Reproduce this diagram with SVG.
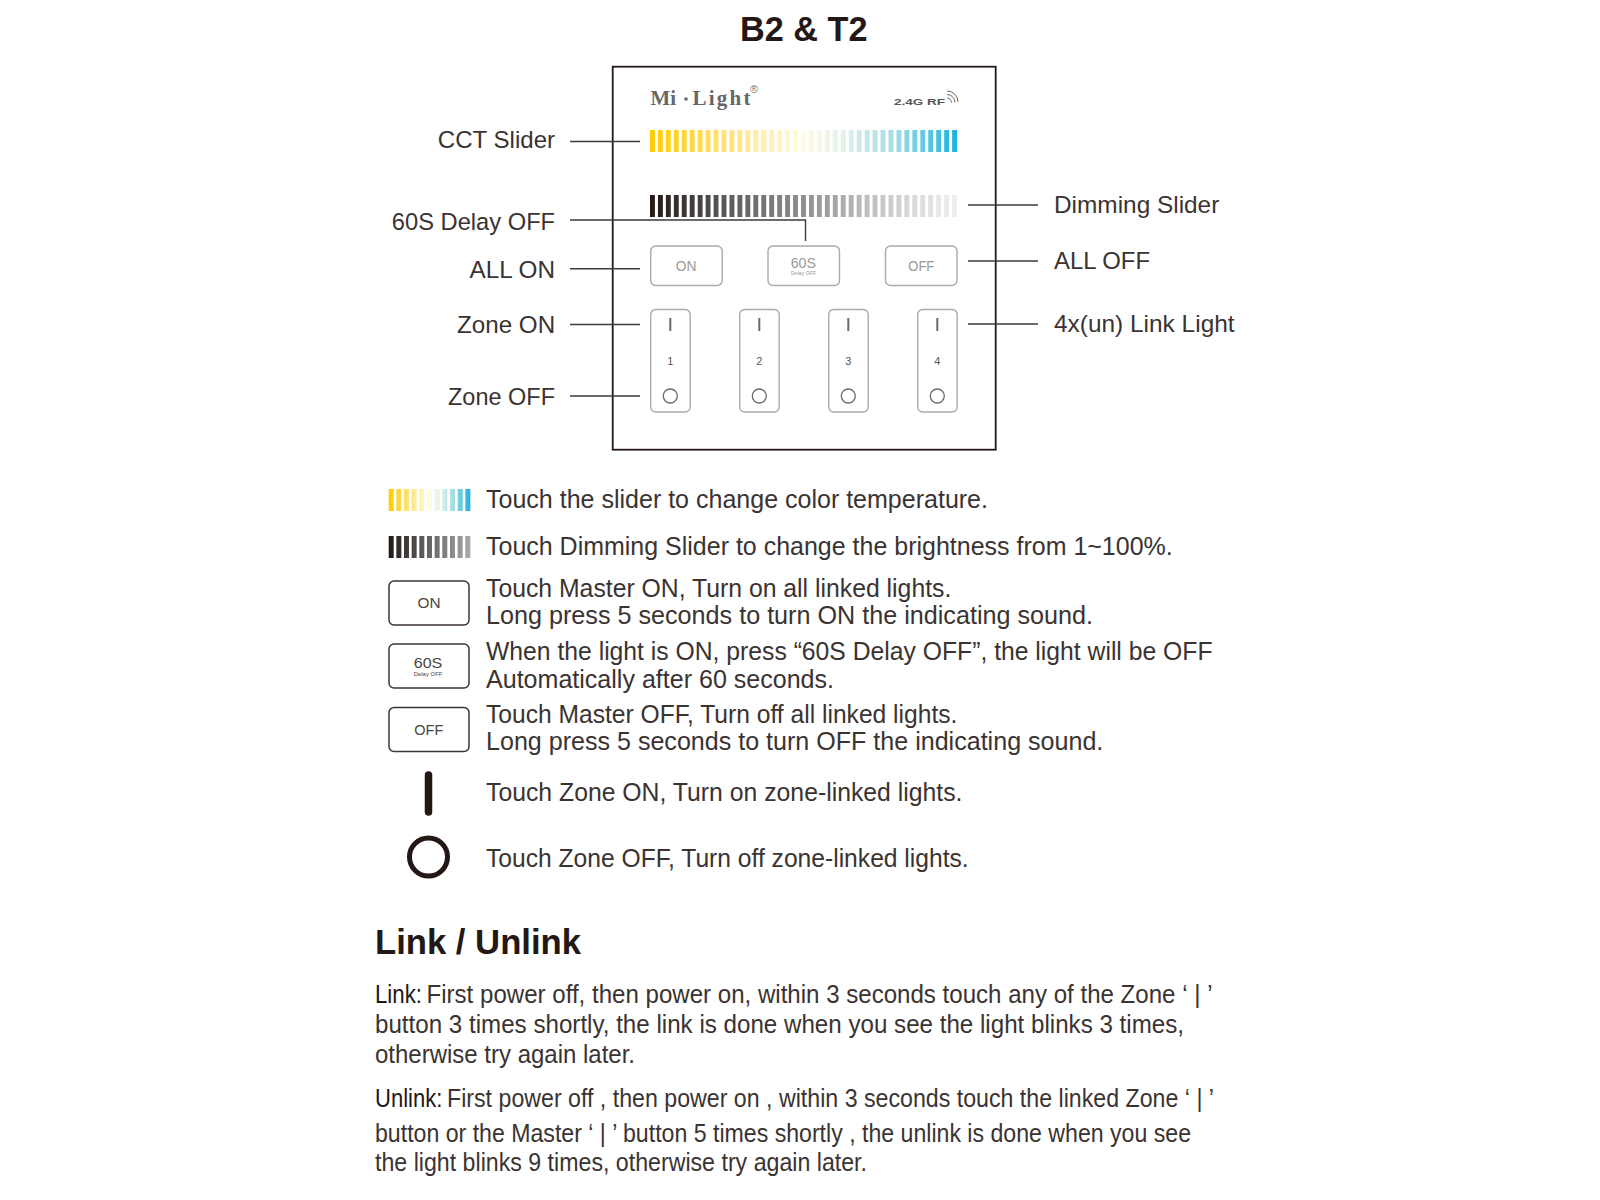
<svg xmlns="http://www.w3.org/2000/svg" width="1600" height="1200" viewBox="0 0 1600 1200">
<style>
text{font-family:"Liberation Sans",Arial,sans-serif;fill:#3a3331}
.t{font-size:25px}
.l{font-size:24.5px}
.h{font-weight:700;fill:#231815;font-size:35px}
.c{fill:none;stroke:#3e3a39;stroke-width:1.4}
.b{fill:#fff;stroke:#aaa;stroke-width:1.4}
.lb{fill:#fff;stroke:#3e3532;stroke-width:1.5}
.bt{fill:#999;font-size:15px}
.lt{fill:#4a4543;font-size:15.500px}
.d{text-anchor:middle;fill:#555;font-size:11px}
.k{stroke:#6a6a6a;stroke-width:2;fill:none}
.r{fill:none;stroke:#6a6a6a;stroke-width:1.3}
.m{font-family:"Liberation Serif",serif;fill:#666;font-size:21px;font-weight:700}
</style>
<defs>
<linearGradient id="cct" gradientUnits="userSpaceOnUse" x1="650" y1="0" x2="957" y2="0">
<stop offset="0" stop-color="#ffcc00"/><stop offset=".25" stop-color="#ffe37a"/><stop offset=".5" stop-color="#fffce0"/><stop offset=".62" stop-color="#e4f3ea"/><stop offset=".8" stop-color="#a2dbe6"/><stop offset="1" stop-color="#18b4e0"/>
</linearGradient>
<linearGradient id="dim" gradientUnits="userSpaceOnUse" x1="650" y1="0" x2="957" y2="0">
<stop offset="0" stop-color="#231815"/><stop offset=".25" stop-color="#5a5a5a"/><stop offset=".5" stop-color="#8f8f8f"/><stop offset=".75" stop-color="#c6c6c6"/><stop offset="1" stop-color="#f0f0f0"/>
</linearGradient>
<linearGradient id="cct2" gradientUnits="userSpaceOnUse" x1="388.700" y1="0" x2="470.300" y2="0">
<stop offset="0" stop-color="#ffcc00"/><stop offset=".25" stop-color="#ffe37a"/><stop offset=".5" stop-color="#fffce0"/><stop offset=".62" stop-color="#e4f3ea"/><stop offset=".8" stop-color="#a2dbe6"/><stop offset="1" stop-color="#18b4e0"/>
</linearGradient>
<linearGradient id="dim2" gradientUnits="userSpaceOnUse" x1="388.700" y1="0" x2="470.300" y2="0">
<stop offset="0" stop-color="#231815"/><stop offset=".5" stop-color="#666"/><stop offset="1" stop-color="#a8a8a8"/>
</linearGradient>
</defs>
<rect width="1600" height="1200" fill="#fff"/>
<text id="title" class="h" x="740" y="41" textLength="127.500" lengthAdjust="spacingAndGlyphs">B2 &amp; T2</text>
<g id="panel">
<rect x="612.700" y="66.700" width="383" height="383" fill="#fff" stroke="#231815" stroke-width="1.800"/>
<text class="m" x="650.500" y="105" textLength="25.500" lengthAdjust="spacingAndGlyphs">Mi</text>
<circle cx="686" cy="99" r="1.800" fill="#666"/>
<text class="m" x="692.500" y="105" textLength="58" lengthAdjust="spacing">Light</text>
<text x="750" y="93" font-size="11" style="fill:#777">®</text>
<text x="894" y="104.500" font-size="9" font-weight="700" textLength="51" lengthAdjust="spacingAndGlyphs" style="fill:#555">2.4G RF</text>
<path class="r" d="M947 98a4.500 4.500 0 0 1 4.500 4.500M947 94.500a8 8 0 0 1 8 8M947 91a11 11 0 0 1 11 11" style="stroke-width:1"/>
</g>
<g id="cct-slider"><line x1="650" x2="957" y1="141" y2="141" stroke="url(#cct)" stroke-width="22" stroke-dasharray="4.900 3.050"/></g>
<g id="dim-slider"><line x1="650" x2="957" y1="206" y2="206" stroke="url(#dim)" stroke-width="22" stroke-dasharray="4.900 3.050"/></g>
<g id="btn-on"><rect class="b" x="650.700" y="246" width="71.500" height="39.500" rx="5"/><text class="bt" x="675.800" y="270.700" textLength="20.700" lengthAdjust="spacingAndGlyphs">ON</text></g>
<g id="btn-60s"><rect class="b" x="768" y="246" width="71.500" height="39.500" rx="5"/><text class="bt" x="790.700" y="268" textLength="25.300" lengthAdjust="spacingAndGlyphs">60S</text><text class="bt" x="790.700" y="275" textLength="25.300" lengthAdjust="spacingAndGlyphs" style="font-size:5.500px">Delay OFF</text></g>
<g id="btn-off"><rect class="b" x="885.500" y="246" width="71.500" height="39.500" rx="5"/><text class="bt" x="908.300" y="270.700" textLength="26" lengthAdjust="spacingAndGlyphs">OFF</text></g>
<g id="zone-1"><rect class="b" x="650.700" y="309.500" width="39.500" height="102.500" rx="5"/><line class="k" x1="670.300" x2="670.300" y1="318" y2="331"/><text class="d" x="670.300" y="365">1</text><circle class="r" cx="670.300" cy="396" r="7"/></g>
<g id="zone-2"><rect class="b" x="739.700" y="309.500" width="39.500" height="102.500" rx="5"/><line class="k" x1="759.300" x2="759.300" y1="318" y2="331"/><text class="d" x="759.300" y="365">2</text><circle class="r" cx="759.300" cy="396" r="7"/></g>
<g id="zone-3"><rect class="b" x="828.700" y="309.500" width="39.500" height="102.500" rx="5"/><line class="k" x1="848.300" x2="848.300" y1="318" y2="331"/><text class="d" x="848.300" y="365">3</text><circle class="r" cx="848.300" cy="396" r="7"/></g>
<g id="zone-4"><rect class="b" x="917.700" y="309.500" width="39.500" height="102.500" rx="5"/><line class="k" x1="937.300" x2="937.300" y1="318" y2="331"/><text class="d" x="937.300" y="365">4</text><circle class="r" cx="937.300" cy="396" r="7"/></g>
<g id="connectors">
<path class="c" d="M570 141.500H640"/>
<path class="c" d="M968 205H1038"/>
<path class="c" d="M570 220H805.500V241"/>
<path class="c" d="M570 268.700H640"/>
<path class="c" d="M968 261H1038"/>
<path class="c" d="M570 324.500H640"/>
<path class="c" d="M968 324H1038"/>
<path class="c" d="M570 396H640"/>
</g>
<g id="callouts">
<text class="l" x="437.800" y="148" textLength="117.300" lengthAdjust="spacingAndGlyphs">CCT Slider</text>
<text class="l" x="391.800" y="230" textLength="163.300" lengthAdjust="spacingAndGlyphs">60S Delay OFF</text>
<text class="l" x="469.400" y="278" textLength="85.700" lengthAdjust="spacingAndGlyphs">ALL ON</text>
<text class="l" x="457.100" y="332.500" textLength="98" lengthAdjust="spacingAndGlyphs">Zone ON</text>
<text class="l" x="448" y="404.500" textLength="107" lengthAdjust="spacingAndGlyphs">Zone OFF</text>
<text class="l" x="1054" y="213" textLength="165.300" lengthAdjust="spacingAndGlyphs">Dimming Slider</text>
<text class="l" x="1054" y="269" textLength="96" lengthAdjust="spacingAndGlyphs">ALL OFF</text>
<text class="l" x="1054" y="332" textLength="180.600" lengthAdjust="spacingAndGlyphs">4x(un) Link Light</text>
</g>
<g id="legend">
<line x1="388.700" x2="470.300" y1="500" y2="500" stroke="url(#cct2)" stroke-width="22" stroke-dasharray="5 2.660"/>
<line x1="388.700" x2="470.300" y1="547" y2="547" stroke="url(#dim2)" stroke-width="22" stroke-dasharray="5 2.660"/>
<rect class="lb" x="389" y="581" width="80" height="44" rx="5"/><text class="lt" x="417.500" y="608.300" textLength="23" lengthAdjust="spacingAndGlyphs">ON</text>
<rect class="lb" x="389" y="644" width="80" height="44" rx="5"/><text class="lt" x="413.700" y="668.300" textLength="28.700" lengthAdjust="spacingAndGlyphs">60S</text><text class="lt" x="413.700" y="675.700" textLength="28.700" lengthAdjust="spacingAndGlyphs" style="font-size:6px">Delay OFF</text>
<rect class="lb" x="389" y="707.500" width="80" height="44" rx="5"/><text class="lt" x="414.300" y="734.500" textLength="29" lengthAdjust="spacingAndGlyphs">OFF</text>
<line x1="428.500" x2="428.500" y1="775" y2="812" stroke="#231815" stroke-width="7.500" stroke-linecap="round"/>
<circle cx="428.500" cy="857" r="19" fill="none" stroke="#231815" stroke-width="5"/>
<text class="t" x="486" y="508" textLength="502" lengthAdjust="spacingAndGlyphs">Touch the slider to change color temperature.</text>
<text class="t" x="486" y="555" textLength="686.700" lengthAdjust="spacingAndGlyphs">Touch Dimming Slider to change the brightness from 1~100%.</text>
<text class="t" x="486" y="597" textLength="465.300" lengthAdjust="spacingAndGlyphs">Touch Master ON, Turn on all linked lights.</text>
<text class="t" x="486" y="624" textLength="607" lengthAdjust="spacingAndGlyphs">Long press 5 seconds to turn ON the indicating sound.</text>
<text class="t" x="486" y="660" textLength="726.500" lengthAdjust="spacingAndGlyphs">When the light is ON, press “60S Delay OFF”, the light will be OFF</text>
<text class="t" x="486" y="688" textLength="348" lengthAdjust="spacingAndGlyphs">Automatically after 60 seconds.</text>
<text class="t" x="486" y="723" textLength="471.400" lengthAdjust="spacingAndGlyphs">Touch Master OFF, Turn off all linked lights.</text>
<text class="t" x="486" y="750" textLength="617.300" lengthAdjust="spacingAndGlyphs">Long press 5 seconds to turn OFF the indicating sound.</text>
<text class="t" x="486" y="801" textLength="476.500" lengthAdjust="spacingAndGlyphs">Touch Zone ON, Turn on zone-linked lights.</text>
<text class="t" x="486" y="867" textLength="482.700" lengthAdjust="spacingAndGlyphs">Touch Zone OFF, Turn off zone-linked lights.</text>
</g>
<g id="link">
<text class="h" x="375" y="954" textLength="206" lengthAdjust="spacingAndGlyphs">Link / Unlink</text>
<text class="t" x="375" y="1003" textLength="47" lengthAdjust="spacingAndGlyphs" style="fill:#1c1715">Link:</text>
<text class="t" x="426.500" y="1003" textLength="786" lengthAdjust="spacingAndGlyphs">First power off, then power on, within 3 seconds touch any of the Zone ‘ | ’</text>
<text class="t" x="375" y="1033" textLength="809" lengthAdjust="spacingAndGlyphs">button 3 times shortly, the link is done when you see the light blinks 3 times,</text>
<text class="t" x="375" y="1063" textLength="260" lengthAdjust="spacingAndGlyphs">otherwise try again later.</text>
<text class="t" x="375" y="1107" textLength="67.300" lengthAdjust="spacingAndGlyphs" style="fill:#1c1715">Unlink:</text>
<text class="t" x="447" y="1107" textLength="767" lengthAdjust="spacingAndGlyphs">First power off , then power on , within 3 seconds touch the linked Zone ‘ | ’</text>
<text class="t" x="375" y="1142" textLength="816" lengthAdjust="spacingAndGlyphs">button or the Master ‘ | ’ button 5 times shortly , the unlink is done when you see</text>
<text class="t" x="375" y="1171" textLength="492" lengthAdjust="spacingAndGlyphs">the light blinks 9 times, otherwise try again later.</text>
</g>
</svg>
